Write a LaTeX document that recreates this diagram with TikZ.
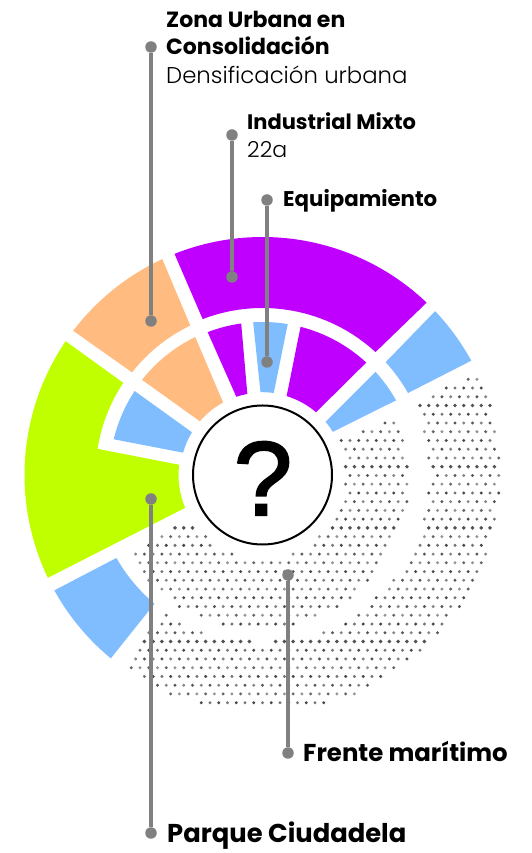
\documentclass[tikz,border=0pt]{standalone}
\usepackage{fontspec}
\setmainfont{Poppins}
\newfontfamily\lightfont{Poppins Light}
\newfontfamily\qfont{Liberation Sans}[FakeBold=2]
\definecolor{lblue}{HTML}{80BDFF}
\definecolor{lpurple}{HTML}{BF00FF}
\definecolor{lpeach}{HTML}{FFBB80}
\definecolor{lgreen}{HTML}{BFFF00}
\definecolor{leader}{HTML}{808080}
\tikzset{
  x=1pt,y=1pt,
  leaderline/.style={draw=leader,line width=3.4pt},
  leaderdot/.style={circle,fill=leader,inner sep=0pt,minimum size=11.5pt},
  lab/.style={anchor=base west,inner sep=0pt},
}
% colour; r outer, from, to; r inner, from, to
\newcommand{\ringsector}[7]{%
  \fill[#1] (#3:#2) arc[start angle=#3,end angle=#4,radius=#2] -- (#7:#5) arc[start angle=#7,end angle=#6,radius=#5] -- cycle;}
\newcommand{\hd}[1]{\bfseries\fontsize{#1}{#1}\selectfont}
\newcommand{\lt}[1]{\lightfont\fontsize{#1}{#1}\selectfont}
\begin{document}
\begin{tikzpicture}
\useasboundingbox (0,0) rectangle (531,853);
\fill[white] (0,0) rectangle (531,853);
\begin{scope}[shift={(262.5,378)}]
  % halftone
  \foreach \k in {0,...,37}{
    \pgfmathsetmacro{\yy}{(475-379.3)-8.74*\k}
    \pgfmathsetmacro{\off}{mod(\k,2)==0 ? 4.4 : 0}
    \pgfmathtruncatemacro{\dark}{(\k==3||\k==10||\k==17||\k==30) ? 1 : 0}
    \foreach \n in {0,...,45}{
      \pgfmathsetmacro{\xx}{420+\off-8.75*(\n-10)-262.5}
      \pgfmathsetmacro{\rr}{veclen(\xx,\yy)}
      \pgfmathsetmacro{\aa}{mod(atan2(\yy,\xx)+360,360)}
      \pgfmathsetmacro{\lim}{151-4*cos(\aa)-3*sin(\aa)}
      \pgfmathtruncatemacro{\show}{((\rr>=83 && \rr<=\lim && (\aa>=211 || \aa<=24.5)) || (\rr>=167 && \rr<=238 && (\aa>=234 || \aa<=25.5))) ? 1 : 0}
      \ifnum\show=1
        \pgfmathtruncatemacro{\dotc}{\dark==1 ? 68 : 42+6*mod(\n*3+\k*2,6)}
        \pgfmathsetmacro{\dotr}{\dark==1 ? 1.95 : 1.65}
        \fill[black!\dotc!white] (\xx,\yy) circle[radius=\dotr];
      \fi
    }
  }
  % outer ring
  \ringsector{lpurple}{238}{111.7}{46.4}{167}{111}{47.4}
  \ringsector{lblue}{238}{43.5}{28.7}{167}{42.5}{29.4}
  \ringsector{lpeach}{238}{114.9}{142.7}{166}{115.8}{141.8}
  \ringsector{lblue}{238}{209}{230.4}{168}{209.6}{230}
  \fill[lgreen] (145.8:238) arc[start angle=145.8,end angle=205.6,radius=238]
     -- (203:84) arc[start angle=203,end angle=173,radius=84]
     -- (171:167) arc[start angle=171,end angle=146.5,radius=167] -- cycle;
  % inner ring
  \ringsector{lblue}{153}{146.7}{166.5}{82.5}{148.8}{164.3}
  \ringsector{lpeach}{153.5}{116}{141.7}{82.5}{118.5}{139.4}
  \ringsector{lpurple}{153}{111}{98}{82.5}{108.5}{100.6}
  \ringsector{lblue}{153}{93.5}{80.5}{82.8}{91.4}{82.2}
  \ringsector{lpurple}{153}{75.6}{47.3}{82.5}{73}{49.5}
  \ringsector{lblue}{153}{42.4}{29.2}{82.5}{40.2}{31.5}
  % centre
  \node[circle,draw=black,fill=white,line width=2pt,minimum size=139pt,inner sep=0pt] (hub) at (0,0) {};
\end{scope}
\node[anchor=base,inner sep=0pt,font=\qfont\fontsize{105}{105}\selectfont] (q) at (263,338) {?};
% leaders
\node[leaderdot] (a1) at (151,806) {};
\node[leaderdot] (a2) at (151,532) {};
\node[leaderdot] (b1) at (232,718) {};
\node[leaderdot] (b2) at (232,576) {};
\node[leaderdot] (c1) at (267,653) {};
\node[leaderdot] (c2) at (267,491) {};
\node[leaderdot] (d1) at (151,354) {};
\node[leaderdot] (d2) at (151,20) {};
\node[leaderdot] (e1) at (288,278) {};
\node[leaderdot] (e2) at (288,100) {};
\draw[leaderline] (a1) -- (a2);
\draw[leaderline] (b1) -- (b2);
\draw[leaderline] (c1) -- (c2);
\draw[leaderline] (d1) -- (d2);
\draw[leaderline] (e1) -- (e2);
% labels
\node[lab,font=\hd{22}] (t1) at (166,825.7) {Zona Urbana en};
\node[lab,font=\hd{22}] (t2) at (166,798) {Consolidación};
\node[lab,font=\lt{22.8}] (t3) at (166,769.7) {Densificación urbana};
\node[lab,font=\hd{21}] (t4) at (247,723) {Industrial Mixto};
\node[lab,font=\lt{22}] (t5) at (247,695) {22a};
\node[lab,font=\hd{21.3}] (t6) at (283,646) {Equipamiento};
\node[lab,font=\hd{24.4}] (t7) at (303,91) {Frente marítimo};
\node[lab,font=\hd{25.8}] (t8) at (167,10) {Parque Ciudadela};
\end{tikzpicture}
\end{document}
